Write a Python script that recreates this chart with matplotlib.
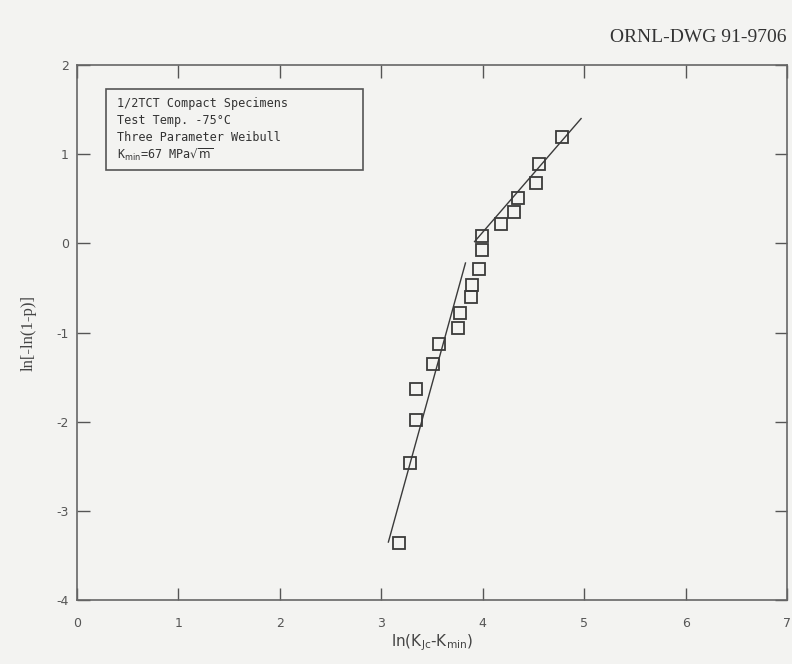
"""Weibull plot of 1/2TCT compact specimen fracture toughness (ORNL-DWG 91-9706)."""

import matplotlib

matplotlib.use("Agg")
import matplotlib.pyplot as plt

plt.rcParams["axes.unicode_minus"] = False

# data
ln_k = [3.17, 3.28, 3.34, 3.34, 3.51, 3.57, 3.76, 3.78, 3.88, 3.89,
        3.96, 3.99, 3.99, 4.18, 4.31, 4.35, 4.53, 4.55, 4.78]
ln_p = [-3.36, -2.46, -1.98, -1.63, -1.35, -1.13, -0.95, -0.78, -0.60, -0.47,
        -0.29, -0.07, 0.08, 0.22, 0.35, 0.51, 0.68, 0.89, 1.19]

fit_lower_x = [3.07, 3.83]
fit_lower_y = [-3.35, -0.22]
fit_upper_x = [3.92, 4.97]
fit_upper_y = [0.02, 1.40]

x_ticks = [0, 1, 2, 3, 4, 5, 6, 7]
y_ticks = [-4, -3, -2, -1, 0, 1, 2]

legend_lines = [
    "1/2TCT Compact Specimens",
    "Test Temp. -75°C",
    "Three Parameter Weibull",
    r"K$_{\rm min}$=67 MPa$\sqrt{\rm m}$",
]

INK = "#3a3a3a"
PAPER = "#f3f3f1"

fig = plt.figure(figsize=(7.92, 6.64), dpi=100, facecolor=PAPER)
ax = fig.add_axes([0.0972, 0.0964, 0.8965, 0.8056], facecolor=PAPER)

ax.plot(fit_lower_x, fit_lower_y, color=INK, lw=1.0)
ax.plot(fit_upper_x, fit_upper_y, color=INK, lw=1.0)
ax.plot(ln_k, ln_p, ls="none", marker="s", ms=8.5, mfc="none",
        mec=INK, mew=1.3)

ax.set_xlim(0, 7)
ax.set_ylim(-4, 2)
ax.set_xticks(x_ticks)
ax.set_yticks(y_ticks)
ax.tick_params(direction="in", length=9, width=1.0, color="#555555",
               labelsize=9, labelcolor="#555555", top=True, right=True)
ax.tick_params(axis="x", pad=12)
ax.tick_params(axis="y", pad=6)
for sp in ax.spines.values():
    sp.set_color("#666666")
    sp.set_linewidth(1.2)

ax.set_xlabel(r"ln(K$_{\rm Jc}$-K$_{\rm min}$)", fontsize=11, color="#444444",
              labelpad=2)
ax.set_ylabel("ln[-ln(1-p)]", fontsize=12, color="#444444",
              family="Liberation Serif", labelpad=14)

# legend box in data coords
ax.add_patch(plt.Rectangle((0.29, 0.82), 2.53, 0.91, fill=False,
                           ec="#555555", lw=1.2))
for i, line in enumerate(legend_lines):
    ax.text(0.39, 1.57 - i * 0.19, line, fontsize=8.5, color="#333333",
            family="DejaVu Sans Mono", va="center", ha="left")

fig.text(0.993, 0.944, "ORNL-DWG 91-9706", ha="right", va="center",
         fontsize=14, family="Liberation Serif", color="#333333")

fig.savefig("out.png", dpi=100, facecolor=PAPER)
